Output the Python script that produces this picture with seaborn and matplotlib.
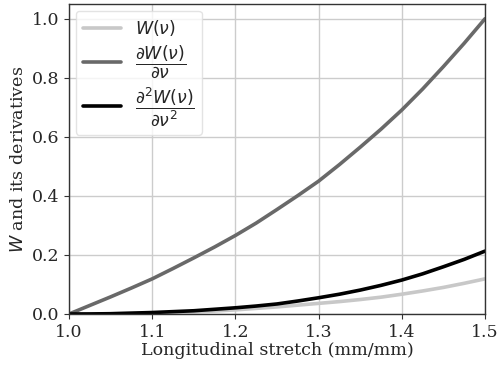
import numpy as np
import pandas as pd
import matplotlib
matplotlib.use("Agg")
import matplotlib.pyplot as plt
import seaborn as sns

stretch = [1.0, 1.025, 1.05, 1.075, 1.1, 1.125, 1.15, 1.175, 1.2, 1.225, 1.25,
           1.275, 1.3, 1.325, 1.35, 1.375, 1.4, 1.425, 1.45, 1.475, 1.5]
W = [0.0, 0.0001, 0.0006, 0.0015, 0.003, 0.005, 0.007, 0.010, 0.014, 0.019, 0.024,
     0.030, 0.036, 0.042, 0.049, 0.057, 0.067, 0.078, 0.090, 0.104, 0.119]
dW = [0.0, 0.029, 0.058, 0.088, 0.119, 0.154, 0.190, 0.227, 0.266, 0.308, 0.354,
      0.401, 0.450, 0.506, 0.565, 0.626, 0.691, 0.762, 0.838, 0.917, 1.0]
d2W = [0.0, 0.0002, 0.001, 0.003, 0.005, 0.008, 0.011, 0.016, 0.021, 0.027, 0.034,
       0.044, 0.055, 0.067, 0.081, 0.097, 0.115, 0.136, 0.160, 0.185, 0.213]

labels = [r"$W(\nu)$", r"$\dfrac{\partial W(\nu)}{\partial \nu}$",
          r"$\dfrac{\partial^2 W(\nu)}{\partial \nu^2}$"]
colors = ["#c8c8c8", "#696969", "#000000"]

sns.set_style("ticks")
plt.rcParams["font.family"] = ["DejaVu Serif"]
plt.rcParams["mathtext.fontset"] = "dejavusans"

fig = plt.figure(figsize=(4.99, 3.65), dpi=100)
ax = fig.add_axes([69 / 499, 1 - 314 / 365, (485 - 69) / 499, (314 - 4) / 365])

for ys, lab, c in zip([W, dW, d2W], labels, colors):
    df = pd.DataFrame({"x": stretch, "y": ys})
    sns.lineplot(data=df, x="x", y="y", ax=ax, color=c, lw=2.6, label=lab)

ax.set_xlim(1.0, 1.5)
ax.set_ylim(0, 1.05)
ax.set_xticks([1.0, 1.1, 1.2, 1.3, 1.4, 1.5])
ax.set_yticks([0.0, 0.2, 0.4, 0.6, 0.8, 1.0])
ax.tick_params(labelsize=12.5, length=3.5, color="#333333")
ax.grid(True, color="#cccccc", lw=1)
for s in ax.spines.values():
    s.set_color("#333333")
    s.set_linewidth(1.0)
ax.set_xlabel("Longitudinal stretch (mm/mm)", fontsize=12.6, labelpad=1)
ax.set_ylabel(r"$W$ and its derivatives", fontsize=12.6, labelpad=3)
leg = ax.legend(loc="upper left", fontsize=12.5, frameon=True, handlelength=2.2,
                labelspacing=0.3, borderaxespad=0.4)
leg.get_frame().set_edgecolor("#dddddd")

fig.savefig("out.png", dpi=100)
